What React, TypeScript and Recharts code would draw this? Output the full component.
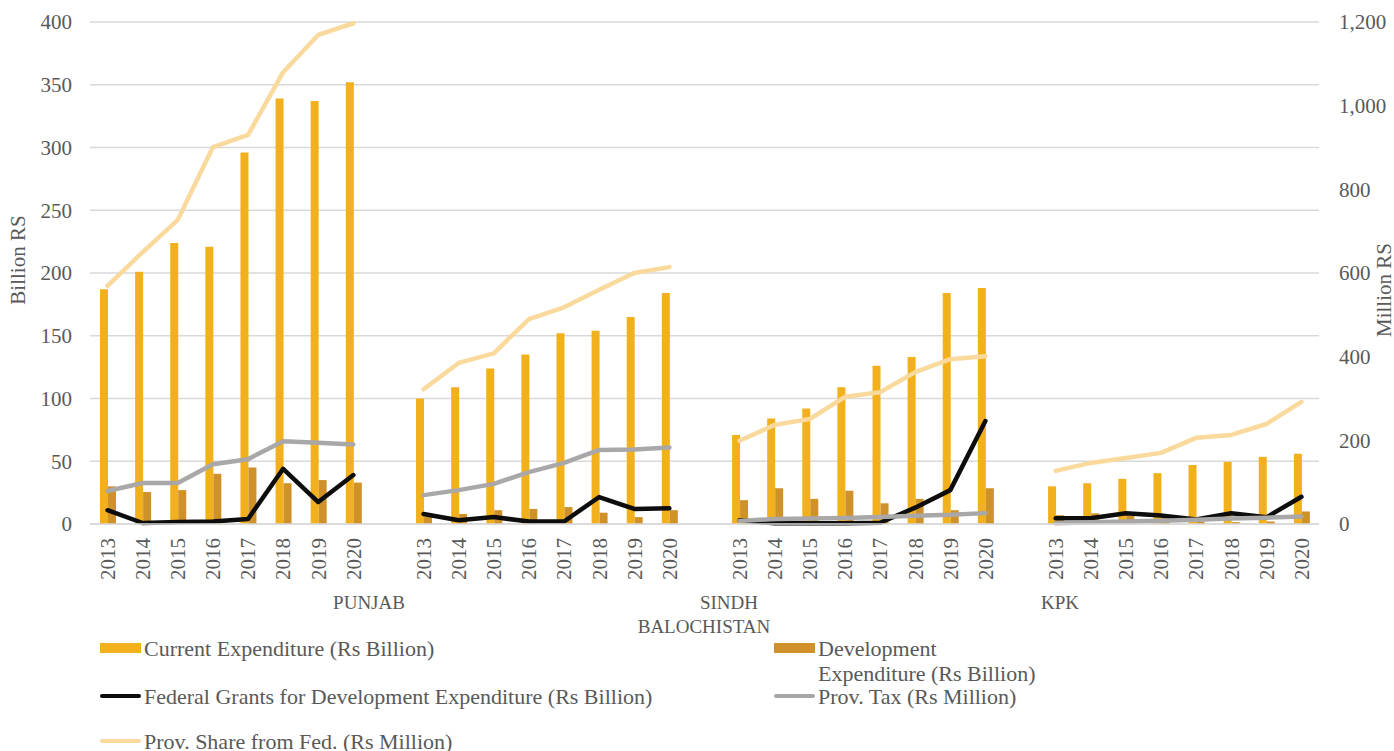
import React from "react";
import {
  ComposedChart, Bar, Line, XAxis, YAxis, CartesianGrid,
} from "recharts";

// ── data ──────────────────────────────────────────────────────────────────────

const years = ["2013", "2014", "2015", "2016", "2017", "2018", "2019", "2020"];
const provinces = ["PUNJAB", "SINDH", "BALOCHISTAN", "KPK"];

// Rs Billion, left axis — one list per province, same order as `provinces`
const currentExp = [
  [187, 201, 224, 221, 296, 339, 337, 352],
  [100, 109, 124, 135, 152, 154, 165, 184],
  [71, 84, 92, 109, 126, 133, 184, 188],
  [30, 32.5, 36, 40.5, 47, 49.5, 53.5, 56],
];
const devExp = [
  [30, 25.5, 27, 40, 45, 32.5, 35, 33],
  [6, 8, 11, 12, 13.5, 9, 5.5, 11],
  [19, 28.5, 20, 26.5, 16.5, 20, 11, 28.5],
  [7, 8.5, 7, 6, 2, 1.5, 2, 10],
];
const fedGrants = [
  [11, 0.8, 1.5, 2, 4, 44, 17.5, 39],
  [8, 3, 5.5, 2, 2, 21.5, 12, 12.5],
  [3, 0.5, 0.5, 0.5, 1, 13, 27, 82],
  [4.5, 4.5, 8.5, 6.7, 3.6, 8.5, 5.3, 21.7],
];
// Rs Million, right axis
const provTax = [
  [79, 98, 98, 143, 155, 198, 194, 190],
  [69, 81, 96, 124, 146, 177, 178, 183],
  [7, 12, 13, 14.5, 17, 20, 22, 26],
  [2, 4, 6, 8, 10, 13, 15, 18],
];
const provShare = [
  [569, 650, 727, 901, 930, 1080, 1169, 1197],
  [322, 385, 408, 490, 518, 560, 600, 614],
  [199, 237, 251, 304, 315, 363, 394, 401],
  [127, 146, 158, 170, 206, 213, 239, 292],
];

const leftTicks = [0, 50, 100, 150, 200, 250, 300, 350, 400];
const rightTicks = [0, 200, 400, 600, 800, 1000, 1200];

// one empty slot between provinces, like the Excel source
const rows: any[] = [];
provinces.forEach((p, pi) => {
  if (pi > 0) rows.push({ key: `gap-${pi}`, year: "" });
  years.forEach((y, yi) => {
    rows.push({
      key: `${p}-${y}`,
      year: y,
      current: currentExp[pi][yi],
      dev: devExp[pi][yi],
      fed: fedGrants[pi][yi],
      tax: provTax[pi][yi],
      share: provShare[pi][yi],
    });
  });
});

// ── styling ───────────────────────────────────────────────────────────────────

const FONT = "'Liberation Serif', 'DejaVu Serif', serif";
const TEXT = "#595959";
const GRID = "#D9D9D9";
const C_CURRENT = "#F2B11C";
const C_DEV = "#CF922B";
const C_FED = "#0D0D0D";
const C_TAX = "#A9A7A7";
const C_SHARE = "#F9D99C";

const YearTick = ({ x, y, payload }: any) => {
  const row = rows.find(r => r.key === payload.value);
  if (!row || !row.year) return null;
  const ty = y + 6;
  return (
    <text
      x={x}
      y={ty}
      dy="0.35em"
      textAnchor="end"
      transform={`rotate(-90, ${x}, ${ty})`}
      fill={TEXT}
      fontSize={21}
      fontFamily={FONT}
    >
      {row.year}
    </text>
  );
};

const fmt = (v: number) => v.toLocaleString("en-US");

function LegendItem({ x, y, kind, color, children }: any) {
  return (
    <div style={{ position: "absolute", left: x, top: y, display: "flex", alignItems: "flex-start" }}>
      <div style={{ width: 41, height: 24, display: "flex", alignItems: "center", marginRight: 3 }}>
        {kind === "bar"
          ? <div style={{ width: 41, height: 10, background: color }} />
          : <div style={{ width: 41, height: 4, background: color, borderRadius: 2 }} />}
      </div>
      <div style={{ lineHeight: "25px", whiteSpace: "nowrap" }}>{children}</div>
    </div>
  );
}

export default function App() {
  return (
    <div
      style={{
        position: "absolute", left: 0, top: 0, width: 1394, height: 751,
        background: "#fff", fontFamily: FONT, color: TEXT, fontSize: 21, overflow: "hidden",
      }}
    >
      <ComposedChart
        width={1394}
        height={751}
        data={rows}
        margin={{ top: 22, right: 0, left: 0, bottom: 0 }}
        barGap={0}
      >
        <CartesianGrid yAxisId="left" vertical={false} stroke={GRID} strokeWidth={1.5} />
        <XAxis
          dataKey="key"
          interval={0}
          height={227}
          tickLine={false}
          axisLine={{ stroke: GRID, strokeWidth: 1.5 }}
          tick={<YearTick />}
        />
        <YAxis
          yAxisId="left"
          width={90}
          domain={[0, 400]}
          ticks={leftTicks}
          axisLine={false}
          tickLine={false}
          tickMargin={12}
          tick={{ fill: TEXT, fontSize: 21, fontFamily: FONT }}
        />
        <YAxis
          yAxisId="right"
          orientation="right"
          width={75}
          domain={[0, 1200]}
          ticks={rightTicks}
          tickFormatter={fmt}
          axisLine={false}
          tickLine={false}
          tickMargin={14}
          tick={{ fill: TEXT, fontSize: 21, fontFamily: FONT, textAnchor: "start" }}
        />
        <Bar yAxisId="left" dataKey="current" fill={C_CURRENT} barSize={8} isAnimationActive={false} />
        <Bar yAxisId="left" dataKey="dev" fill={C_DEV} barSize={8} isAnimationActive={false} />
        <Line yAxisId="left" dataKey="fed" stroke={C_FED} strokeWidth={4.5} dot={false}
          strokeLinejoin="round" strokeLinecap="round" isAnimationActive={false} />
        <Line yAxisId="right" dataKey="tax" stroke={C_TAX} strokeWidth={4.5} dot={false}
          strokeLinejoin="round" strokeLinecap="round" isAnimationActive={false} />
        <Line yAxisId="right" dataKey="share" stroke={C_SHARE} strokeWidth={4.5} dot={false}
          strokeLinejoin="round" strokeLinecap="round" isAnimationActive={false} />
      </ComposedChart>

      {/* axis titles */}
      <div style={{ position: "absolute", left: 18, top: 260, transform: "translate(-50%, -50%) rotate(-90deg)", whiteSpace: "nowrap" }}>
        Billion RS
      </div>
      <div style={{ position: "absolute", left: 1384, top: 290, transform: "translate(-50%, -50%) rotate(-90deg)", whiteSpace: "nowrap" }}>
        Million RS
      </div>

      {/* province labels (placed where the source puts them) */}
      <div style={{ position: "absolute", left: 369, top: 603, transform: "translate(-50%, -50%)", fontSize: 19 }}>{provinces[0]}</div>
      <div style={{ position: "absolute", left: 729, top: 603, transform: "translate(-50%, -50%)", fontSize: 19 }}>{provinces[1]}</div>
      <div style={{ position: "absolute", left: 704, top: 627, transform: "translate(-50%, -50%)", fontSize: 19 }}>{provinces[2]}</div>
      <div style={{ position: "absolute", left: 1060, top: 603, transform: "translate(-50%, -50%)", fontSize: 19 }}>{provinces[3]}</div>

      {/* legend */}
      <div style={{ fontSize: 22 }}>
        <LegendItem x={100} y={636} kind="bar" color={C_CURRENT}>Current Expenditure (Rs Billion)</LegendItem>
        <LegendItem x={774} y={636} kind="bar" color={C_DEV}>Development<br />Expenditure (Rs Billion)</LegendItem>
        <LegendItem x={100} y={684} kind="line" color={C_FED}>Federal Grants for Development Expenditure (Rs Billion)</LegendItem>
        <LegendItem x={774} y={684} kind="line" color={C_TAX}>Prov. Tax (Rs Million)</LegendItem>
        <LegendItem x={100} y={729} kind="line" color={C_SHARE}>Prov. Share from Fed. (Rs Million)</LegendItem>
      </div>
    </div>
  );
}
